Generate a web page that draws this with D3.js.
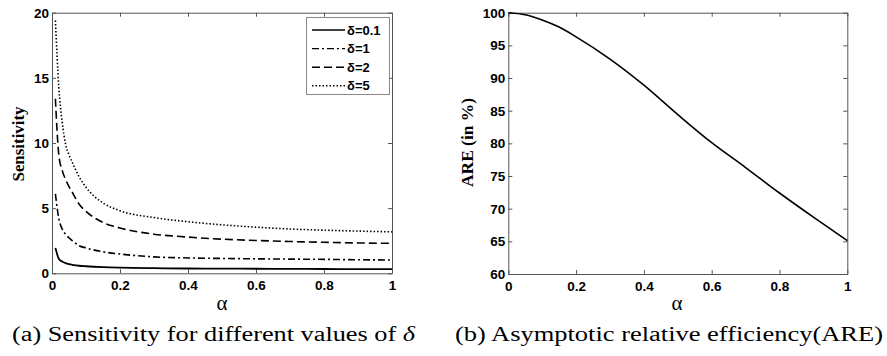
<!DOCTYPE html>
<html>
<head>
<meta charset="utf-8">
<script src="https://cdn.jsdelivr.net/npm/d3@7"></script>
<style>
  body { margin: 0; background: #fff; }
  svg { display: block; }
  .tick text { font-family: Arial, "Liberation Sans", sans-serif; font-weight: bold; font-size: 13.5px; fill: #000; }
  .axis path, .axis line { stroke: #555; }
</style>
</head>
<body>
<div id="chart"></div>
<script>
'use strict';

// Panel (a): sensitivity vs alpha for several deltas
var alphaS = [0.01, 0.02, 0.03, 0.04, 0.05, 0.06, 0.08, 0.1, 0.15, 0.2, 0.3, 0.4, 0.5, 0.6, 0.7, 0.8, 0.9, 1]
var sensD01 = [1.95, 1.12, 0.9, 0.78, 0.7, 0.65, 0.58, 0.54, 0.47, 0.43, 0.39, 0.37, 0.36, 0.35, 0.34, 0.33, 0.32, 0.32]
var sensD1  = [6.1, 4.2, 3.4, 3.0, 2.72, 2.5, 2.12, 1.95, 1.65, 1.48, 1.26, 1.18, 1.14, 1.11, 1.09, 1.07, 1.04, 1.02]
var sensD2  = [13.4, 9.1, 7.9, 7.2, 6.65, 6.2, 5.3, 4.75, 3.9, 3.48, 3.0, 2.78, 2.62, 2.52, 2.44, 2.38, 2.33, 2.3]
var sensD5  = [19.4, 14.3, 11.6, 9.9, 9.1, 8.5, 7.4, 6.6, 5.4, 4.8, 4.28, 3.96, 3.72, 3.54, 3.4, 3.31, 3.24, 3.18]
var legendLabels = ['δ=0.1', 'δ=1', 'δ=2', 'δ=5']

// Panel (b): asymptotic relative efficiency
var alphaE = [0, 0.05, 0.1, 0.15, 0.2, 0.3, 0.4, 0.5, 0.6, 0.7, 0.8, 0.9, 1]
var areVals = [100, 99.7, 98.9, 97.8, 96.3, 92.9, 88.9, 84.4, 80.1, 76.3, 72.4, 68.7, 65.1]

var xTicks = [0, 0.2, 0.4, 0.6, 0.8, 1]
var sensTicks = [0, 5, 10, 15, 20]
var areTicks = [60, 65, 70, 75, 80, 85, 90, 95, 100]

var dashes = ['none', '7,3,2,3', '8,4', '1.5,2']

var svg = d3.select('#chart').append('svg')
    .attr('width', 887)
    .attr('height', 356)

function fmt(d) { return String(d) }

function drawPanel(box, yDomain, yTicks) {
  var x = d3.scaleLinear().domain([0, 1]).range([box.left, box.right])
  var y = d3.scaleLinear().domain(yDomain).range([box.bottom, box.top])

  svg.append('g').attr('class', 'axis')
      .attr('transform', 'translate(0,' + box.bottom + ')')
      .call(d3.axisBottom(x).tickValues(xTicks).tickFormat(fmt).tickSize(-4).tickSizeOuter(0).tickPadding(7))
  svg.append('g').attr('class', 'axis')
      .attr('transform', 'translate(0,' + box.top + ')')
      .call(d3.axisTop(x).tickValues(xTicks).tickFormat('').tickSize(-4).tickSizeOuter(0))
  svg.append('g').attr('class', 'axis')
      .attr('transform', 'translate(' + box.left + ',0)')
      .call(d3.axisLeft(y).tickValues(yTicks).tickFormat(d3.format('d')).tickSize(-4).tickSizeOuter(0).tickPadding(3))
  svg.append('g').attr('class', 'axis')
      .attr('transform', 'translate(' + box.right + ',0)')
      .call(d3.axisRight(y).tickValues(yTicks).tickFormat('').tickSize(-4).tickSizeOuter(0))

  svg.selectAll('.axis .domain').attr('stroke', '#555')
  return { x: x, y: y }
}

// ---- panel (a)
var a = drawPanel({ left: 52, right: 392, top: 12.7, bottom: 273.3 }, [0, 20], sensTicks)
var sensSeries = [sensD01, sensD1, sensD2, sensD5]

var lineA = d3.line()
    .x(function(d) { return a.x(d[0]) })
    .y(function(d) { return a.y(d[1]) })
    .curve(d3.curveMonotoneX)

sensSeries.forEach(function(vals, i) {
  svg.append('path')
      .datum(alphaS.map(function(al, j) { return [al, vals[j]] }))
      .attr('d', lineA)
      .attr('fill', 'none')
      .attr('stroke', '#000')
      .attr('stroke-width', i === 0 ? 1.8 : 1.6)
      .attr('stroke-dasharray', dashes[i])
})

// legend
var legend = svg.append('g')
legend.append('rect')
    .attr('x', 306.5).attr('y', 17.5)
    .attr('width', 83).attr('height', 77)
    .attr('fill', '#fff')
    .attr('stroke', '#888')
legendLabels.forEach(function(lab, i) {
  var yy = 30 + i * 18.6
  legend.append('line')
      .attr('x1', 312).attr('x2', 345)
      .attr('y1', yy).attr('y2', yy)
      .attr('stroke', '#000')
      .attr('stroke-width', 1.4)
      .attr('stroke-dasharray', dashes[i])
  legend.append('text')
      .attr('x', 347).attr('y', yy)
      .attr('dy', '0.35em')
      .style('font-family', 'Arial, "Liberation Sans", sans-serif')
      .style('font-weight', 'bold')
      .style('font-size', '13px')
      .text(lab)
})

// ---- panel (b)
var b = drawPanel({ left: 508.3, right: 847.3, top: 12.7, bottom: 274 }, [60, 100], areTicks)

svg.append('path')
    .datum(alphaE.map(function(al, j) { return [al, areVals[j]] }))
    .attr('d', d3.line()
      .x(function(d) { return b.x(d[0]) })
      .y(function(d) { return b.y(d[1]) })
      .curve(d3.curveMonotoneX))
    .attr('fill', 'none')
    .attr('stroke', '#000')
    .attr('stroke-width', 1.6)

// axis titles
function title(x, y, rot, txt, size, len) {
  var t = svg.append('text')
      .attr('transform', 'translate(' + x + ',' + y + ')' + (rot ? ' rotate(-90)' : ''))
      .attr('text-anchor', 'middle')
      .style('font-family', '"Times New Roman", "Liberation Serif", serif')
      .style('font-size', size + 'px')
      .text(txt)
  if (rot) t.style('font-weight', 'bold')
  if (len) t.attr('textLength', len).attr('lengthAdjust', 'spacingAndGlyphs')
  return t
}
title(222, 309.5, false, 'α', 21)
title(677, 309.5, false, 'α', 21)
title(24, 144, true, 'Sensitivity', 16, 75)
title(473, 142.5, true, 'ARE (in %)', 16, 89)

// captions
function caption(x, len, parts) {
  var t = svg.append('text')
      .attr('x', x).attr('y', 341)
      .attr('textLength', len)
      .attr('lengthAdjust', 'spacingAndGlyphs')
      .style('font-family', '"Times New Roman", "Liberation Serif", serif')
      .style('font-size', '20px')
  parts.forEach(function(p) {
    t.append('tspan').style('font-style', p.it ? 'italic' : 'normal').text(p.s)
  })
}
caption(12, 403, [{ s: '(a) Sensitivity for different values of ' }, { s: 'δ', it: true }])
caption(455, 428, [{ s: '(b) Asymptotic relative efficiency(ARE)' }])
</script>
</body>
</html>
